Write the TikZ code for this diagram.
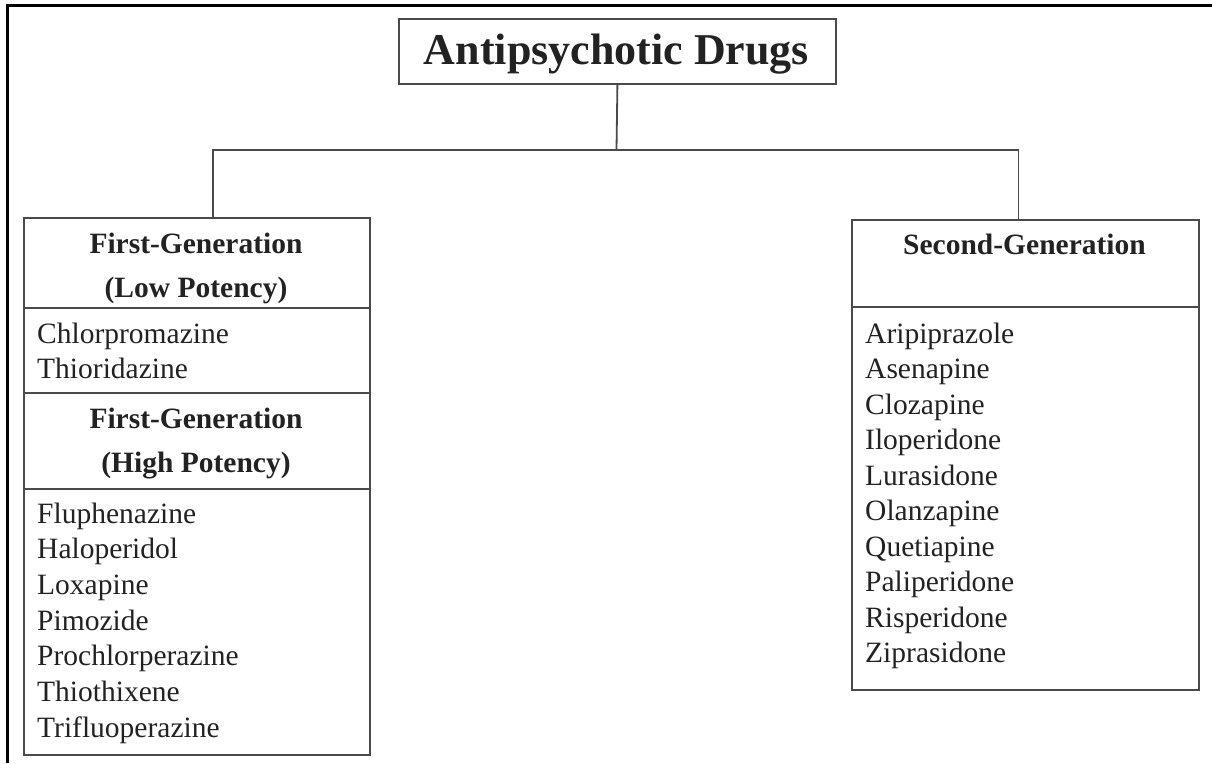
\documentclass[tikz,border=0pt]{standalone}
\usepackage{fontspec}
\setmainfont{Liberation Serif}
\definecolor{boxline}{HTML}{4A4A4A}
\definecolor{txt}{HTML}{222222}
\begin{document}
\begin{tikzpicture}[x=1pt,y=-1pt,
  sect/.style={draw=boxline,line width=1.8pt,inner sep=0pt,anchor=north west},
  item/.style={anchor=base west,inner sep=0pt,text=txt,font=\fontsize{29.5}{35}\selectfont},
  head/.style={anchor=base,inner sep=0pt,text=txt,font=\fontsize{29.5}{35}\selectfont\bfseries},
  titletext/.style={anchor=base,inner sep=0pt,text=txt,font=\fontsize{44}{50}\selectfont\bfseries},
  link/.style={draw=boxline,line width=1.8pt},
  frame/.style={draw=black,line width=3pt}]
\useasboundingbox (0,0) rectangle (1212,763);
% outer frame (top and left only)
\coordinate (fb) at (7,763);
\coordinate (fc) at (7,5);
\coordinate (fr) at (1212,5);
\draw[frame] (fb) -- (fc) -- (fr);
% title
\node[sect, minimum width=437pt, minimum height=65pt] (title) at (398,18) {};
\node[titletext] (tt) at (616.5,64) {Antipsychotic Drugs};
% left column sections
\node[sect, minimum width=346pt, minimum height=90pt]  (lh1) at (23,217) {};
\node[sect, minimum width=346pt, minimum height=85pt]  (ll1) at (23,307) {};
\node[sect, minimum width=346pt, minimum height=96pt]  (lh2) at (23,392) {};
\node[sect, minimum width=346pt, minimum height=266pt] (ll2) at (23,488) {};
% right column sections
\node[sect, minimum width=347pt, minimum height=87pt]  (rh) at (851,219) {};
\node[sect, minimum width=347pt, minimum height=383pt] (rl) at (851,306) {};
% connectors
\coordinate (j) at (616.5,150);
\coordinate (lt) at (213,217);
\coordinate (rt) at (1018.5,219);
\draw[link] (title.south) -- (j);
\draw[link] (lt) |- (j) -| (rt);
% left texts
\node[head] (h1a) at (196,253) {First-Generation};
\node[head] (h1b) at (196,297) {(Low Potency)};
\node[item] (c1) at (37,343) {Chlorpromazine};
\node[item] (c2) at (37,378) {Thioridazine};
\node[head] (h2a) at (196,428) {First-Generation};
\node[head] (h2b) at (196,472) {(High Potency)};
\foreach \t [count=\i from 0] in {Fluphenazine,Haloperidol,Loxapine,Pimozide,Prochlorperazine,Thiothixene,Trifluoperazine}
  \node[item] (hp\i) at (37,523+35.7*\i) {\t};
% right texts
\node[head] (h3) at (1024.5,254) {Second-Generation};
\foreach \t [count=\i from 0] in {Aripiprazole,Asenapine,Clozapine,Iloperidone,Lurasidone,Olanzapine,Quetiapine,Paliperidone,Risperidone,Ziprasidone}
  \node[item] (sg\i) at (865,343+35.55*\i) {\t};
\end{tikzpicture}
\end{document}
